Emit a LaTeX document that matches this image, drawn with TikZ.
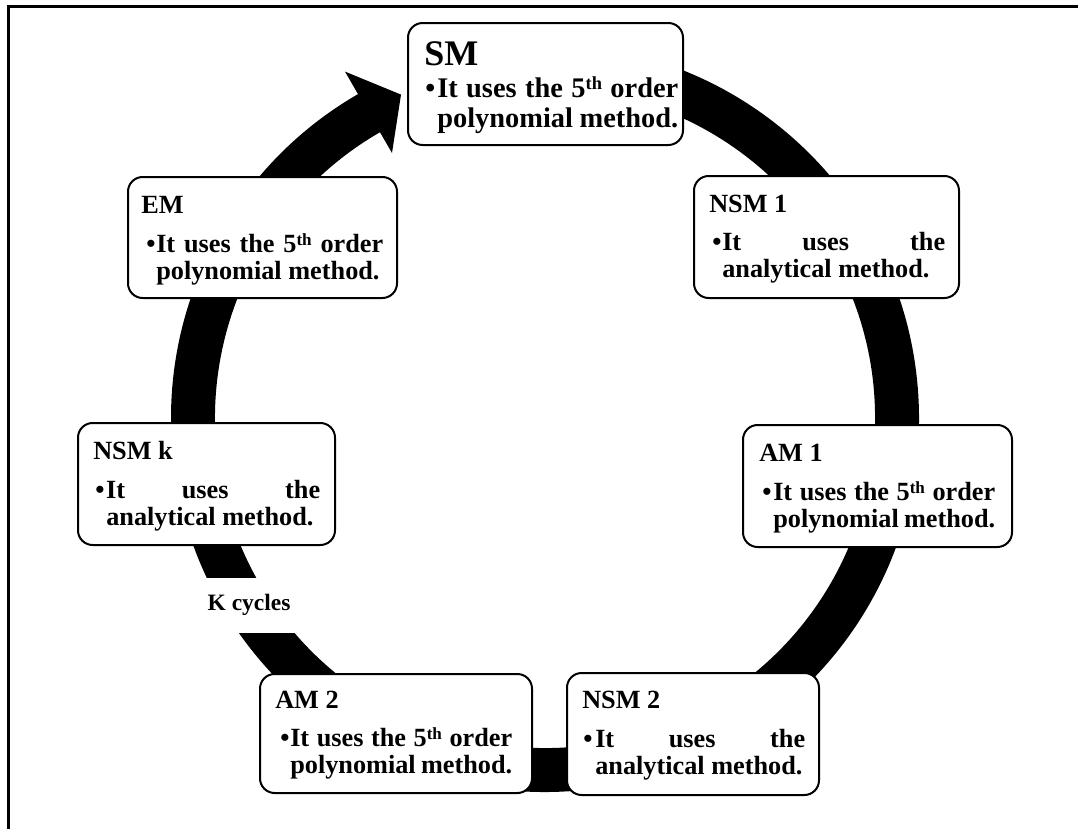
\documentclass[tikz,border=0pt]{standalone}
\usepackage{fontspec}
\setmainfont{Liberation Serif}
\usetikzlibrary{calc}
\newlength{\pxu}\setlength{\pxu}{0.75pt}
% #1 total width (px), #2 bullet width (px), #3 font size, #4 baselineskip, #5 text
\newcommand{\bodypar}[5]{\parbox[t]{#1\pxu}{\fontsize{#3}{#4}\selectfont\bfseries
  \hyphenpenalty=10000\exhyphenpenalty=10000\tolerance=10000\hbadness=10000
  \hangindent=#2\pxu\hangafter=1\noindent\makebox[#2\pxu][l]{\textbullet}#5}}
\newcommand{\thsup}[1]{\raisebox{0.25em}{\fontsize{#1}{#1}\selectfont th}}
\newcommand{\fifth}[1]{It uses the 5\thsup{#1} order\linebreak polynomial method.}
\newcommand{\anal}{It uses the\linebreak analytical method.}
\begin{document}
\begin{tikzpicture}[x=0.75pt,y=-0.75pt,
  box/.style={draw, line width=1.5pt, rounded corners=11pt, fill=white,
    inner sep=0pt, outer sep=0pt},
  ttl/.style={anchor=base west, inner sep=0pt, font=\fontsize{19.7}{20}\selectfont\bfseries},
  bdy/.style={anchor=base west, inner sep=0pt}]
\useasboundingbox (0,0) rectangle (1078,829);
% frame
\draw[line width=2.4pt] (8.4,829) -- (8.4,6.6) -- (1078,6.6);
% cycle arrow
\coordinate (c) at (545,418);
\fill ($(c)+(-95:374)$) arc[start angle=-95,end angle=240,radius=374]
  -- ($(c)+(240:400)$) -- ($(c)+(246:354)$) -- ($(c)+(240:306)$)
  -- ($(c)+(240:330)$) arc[start angle=240,end angle=-95,radius=330] -- cycle;
% K cycles label
\node[fill=white, inner sep=0pt, minimum width=120\pxu, minimum height=55\pxu,
  font=\fontsize{17.6}{18}\selectfont\bfseries] (kc) at (249,605) {K cycles};
% boxes
\node[box, minimum width=275\pxu, minimum height=122\pxu] (sm) at (545.5,84) {};
\node[box, minimum width=265\pxu, minimum height=122\pxu] (nsm1) at (826.5,237) {};
\node[box, minimum width=269\pxu, minimum height=122\pxu] (am1) at (877.5,486) {};
\node[box, minimum width=252\pxu, minimum height=122\pxu] (nsm2) at (693,734) {};
\node[box, minimum width=272\pxu, minimum height=119\pxu] (am2) at (396,733.5) {};
\node[box, minimum width=257\pxu, minimum height=122\pxu] (nsmk) at (206.5,484) {};
\node[box, minimum width=269\pxu, minimum height=121\pxu] (em) at (262.5,237.5) {};
% texts
\node[ttl, font=\fontsize{27}{28}\selectfont\bfseries] (smt) at (424,65) {SM};
\node[bdy] (smb) at (425,97) {\bodypar{253}{12}{21.3}{22.5}{\fifth{13.8}}};
\node[ttl] (nsm1t) at (709,212) {NSM 1};
\node[bdy] (nsm1b) at (712,250) {\bodypar{233}{10}{19.7}{20.25}{\anal}};
\node[ttl] (am1t) at (759,461) {AM 1};
\node[bdy] (am1b) at (762,500) {\bodypar{233}{11}{19.7}{20.25}{\fifth{12.8}}};
\node[ttl] (nsm2t) at (582,708) {NSM 2};
\node[bdy] (nsm2b) at (583,747) {\bodypar{222}{12}{19.7}{20.25}{\anal}};
\node[ttl] (am2t) at (275,708) {AM 2};
\node[bdy] (am2b) at (280,746) {\bodypar{232}{10}{19.7}{20.25}{\fifth{12.8}}};
\node[ttl] (nsmkt) at (93,459) {NSM k};
\node[bdy] (nsmkb) at (95,498) {\bodypar{225}{11}{19.7}{20.25}{\anal}};
\node[ttl] (emt) at (141,213) {EM};
\node[bdy] (emb) at (146,252) {\bodypar{237}{10}{19.7}{20.25}{\fifth{12.8}}};
\end{tikzpicture}
\end{document}
